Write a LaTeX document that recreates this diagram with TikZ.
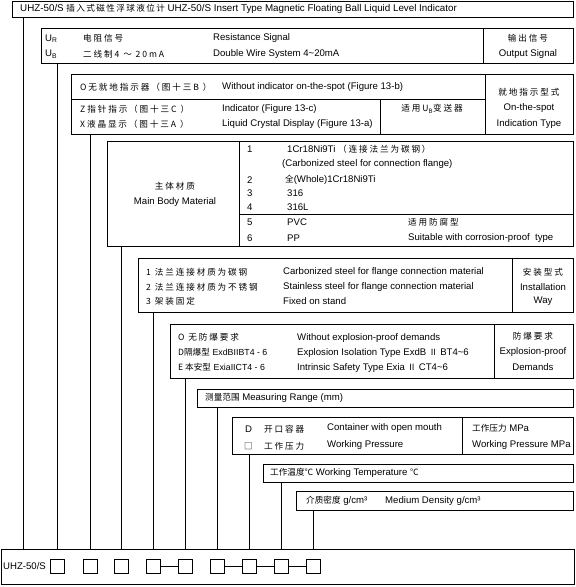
\documentclass[tikz,border=0pt]{standalone}
\usepackage{fontspec}
\setmainfont{Liberation Sans}
\newfontfamily\cjkf{Noto Sans CJK SC}
\newfontfamily\cjksf[LetterSpace=22]{Noto Sans CJK SC}
\newfontfamily\cjkhf[LetterSpace=16]{Noto Sans CJK SC}
\newcommand\zht[1]{{\fontsize{8.6}{10}\selectfont\cjkf #1}}
\newcommand\zsp[1]{{\fontsize{8.6}{10}\selectfont\cjksf #1}}
\newcommand\zhd[1]{{\fontsize{8.6}{10}\selectfont\cjkhf #1}}
\newcommand\smallat[1]{{\fontsize{8.8}{10}\selectfont #1}}
\begin{document}
\begin{tikzpicture}[x=1pt,y=-1pt,
  font=\fontsize{9.6}{11}\selectfont,
  frame/.style={draw,line width=0.9pt,inner sep=0pt,outer sep=0pt,anchor=north west},
  txt/.style={inner sep=0pt,anchor=west},
  ctxt/.style={inner sep=0pt,anchor=center},
  sq/.style={draw,line width=0.9pt,minimum width=14pt,minimum height=14pt,inner sep=0pt,outer sep=0pt},
  ln/.style={line width=0.9pt}]
\useasboundingbox (0,0) rectangle (576,587);

% frames
\node[frame,minimum width=561pt,minimum height=16pt] (hdr) at (12,1) {};
\node[frame,minimum width=532pt,minimum height=35pt] (ub) at (41,28) {};
\node[frame,minimum width=502pt,minimum height=60pt] (ind) at (71,74) {};
\node[frame,minimum width=466pt,minimum height=105pt] (mat) at (107,141) {};
\node[frame,minimum width=435pt,minimum height=54pt] (ins) at (138,258) {};
\node[frame,minimum width=403pt,minimum height=54pt] (exb) at (170,324) {};
\node[frame,minimum width=376pt,minimum height=18pt] (mr) at (197,389) {};
\node[frame,minimum width=341pt,minimum height=37pt] (db) at (232,417) {};
\node[frame,minimum width=310pt,minimum height=18pt] (tb) at (263,464) {};
\node[frame,minimum width=277pt,minimum height=19pt] (dens) at (296,491) {};
\node[frame,minimum width=573pt,minimum height=35pt] (bot) at (1,549) {};

% dividers
\draw[ln] (483,28) -- (483,63);
\draw[ln] (485,74) -- (485,134);
\draw[ln] (71,99) -- (485,99);
\draw[ln] (380,99) -- (380,134);
\draw[ln] (239,141) -- (239,246);
\draw[ln] (239,214) -- (573,214);
\draw[ln] (512,258) -- (512,312);
\draw[ln] (494,324) -- (494,378);
\draw[ln] (462,417) -- (462,454);

% header
\node[txt,font=\fontsize{9.8}{11}\selectfont] (t0) at (20,9) {UHZ-50/S \zhd{插入式磁性浮球液位计} UHZ-50/S Insert Type Magnetic Floating Ball Liquid Level Indicator};

% output signal
\node[txt] (u1) at (45,38.5) {U\textsubscript{R}};
\node[txt] (u2) at (45,54) {U\textsubscript{B}};
\node[txt] (u3) at (83,38.5) {\zsp{电阻信号}};
\node[txt] (u4) at (83,54) {\zsp{二线制4 ～ 20mA}};
\node[txt] (u5) at (213,38.5) {Resistance Signal};
\node[txt] (u6) at (213,54) {Double Wire System 4\textasciitilde20mA};
\node[ctxt] (u7) at (528,38.5) {\zsp{输出信号}};
\node[ctxt] (u8) at (528,54) {Output Signal};

% indicator
\node[txt] (i1) at (80,87) {\zsp{O无就地指示器（图十三B ）}};
\node[txt] (i2) at (222,87) {Without indicator on-the-spot (Figure 13-b)};
\node[txt] (i3) at (80,109) {\zsp{Z指针指示（图十三C ）}};
\node[txt] (i4) at (222,109) {Indicator (Figure 13-c)};
\node[txt] (i5) at (80,124) {\zsp{X液晶显示（图十三A ）}};
\node[txt] (i6) at (222,124) {Liquid Crystal Display (Figure 13-a)};
\node[ctxt] (i7) at (432,109) {\zsp{适用U\textsubscript{B}变送器}};
\node[ctxt] (i8) at (529,92) {\zsp{就地指示型式}};
\node[ctxt] (i9) at (529,108) {On-the-spot};
\node[ctxt] (i10) at (529,124) {Indication Type};

% material
\node[ctxt] (m0) at (175,186) {\zsp{主体材质}};
\node[ctxt] (m00) at (175,202) {Main Body Material};
\node[txt] (m1) at (247,149) {1};
\node[txt] (m1b) at (287,149) {1Cr18Ni9Ti \zsp{（连接法兰为碳钢）}};
\node[txt] (m1c) at (282,164) {(Carbonized steel for connection flange)};
\node[txt] (m2) at (247,180) {2};
\node[txt] (m2b) at (285,180) {\zht{全}(Whole)1Cr18Ni9Ti};
\node[txt] (m3) at (247,193) {3};
\node[txt] (m3b) at (287,193) {316};
\node[txt] (m4) at (247,207) {4};
\node[txt] (m4b) at (287,207) {316L};
\node[txt] (m5) at (247,222) {5};
\node[txt] (m5b) at (287,222) {PVC};
\node[txt] (m5c) at (408,222) {\zsp{适用防腐型}};
\node[txt] (m6) at (247,238) {6};
\node[txt] (m6b) at (287,238) {PP};
\node[txt] (m6c) at (408,238) {Suitable with corrosion-proof\ \ type};

% installation
\node[txt] (n1) at (146,272) {\zsp{1 法兰连接材质为碳钢}};
\node[txt] (n1b) at (283,272) {Carbonized steel for flange connection material};
\node[txt] (n2) at (146,287) {\zsp{2 法兰连接材质为不锈钢}};
\node[txt] (n2b) at (283,287) {Stainless steel for flange connection material};
\node[txt] (n3) at (146,301) {\zsp{3 架装固定}};
\node[txt] (n3b) at (283,301) {Fixed on stand};
\node[ctxt] (n4) at (543,272) {\zsp{安装型式}};
\node[ctxt] (n5) at (543,287) {Installation};
\node[ctxt] (n6) at (543,301) {Way};

% explosion
\node[txt] (e1) at (178,337) {\zsp{O 无防爆要求}};
\node[txt] (e1b) at (297,338) {Without explosion-proof demands};
\node[txt] (e2) at (178,352) {\zht{D隔爆型} \smallat{ExdBIIBT4 - 6}};
\node[txt] (e2b) at (297,353) {Explosion Isolation Type ExdB \zht{Ⅱ} BT4\textasciitilde6};
\node[txt] (e3) at (178,367) {\zht{E 本安型} \smallat{ExiaIICT4 - 6}};
\node[txt] (e3b) at (297,368) {Intrinsic Safety Type Exia \zht{Ⅱ} CT4\textasciitilde6};
\node[ctxt] (e4) at (533,336) {\zsp{防爆要求}};
\node[ctxt] (e5) at (533,352) {Explosion-proof};
\node[ctxt] (e6) at (533,367) {Demands};

% measuring range
\node[txt] (r1) at (205,398) {\zht{测量范围} Measuring Range (mm)};

% pressure
\node[txt] (d1) at (245,429) {D};
\node[txt] (d2) at (264,429) {\zsp{开口容器}};
\node[txt] (d3) at (327,428) {Container with open mouth};
\node[txt] (d4) at (244,446) {\zht{□}};
\node[txt] (d5) at (264,446) {\zsp{工作压力}};
\node[txt] (d6) at (327,445) {Working Pressure};
\node[txt] (d7) at (472,428) {\zht{工作压力} MPa};
\node[txt] (d8) at (472,445) {Working Pressure MPa};

% temperature
\node[txt] (w1) at (270,473) {\zht{工作温度℃} Working Temperature \zht{℃}};

% density
\node[txt] (g1) at (306,501) {\zht{介质密度} g/cm³};
\node[txt] (g2) at (385,501) {Medium Density g/cm³};

% bottom row
\node[txt] (lbl) at (3,566) {UHZ-50/S};
\node[sq] (s1) at (57,566) {};
\node[sq] (s2) at (90,566) {};
\node[sq] (s3) at (121,566) {};
\node[sq] (s4) at (153,566) {};
\node[sq] (s5) at (185,566) {};
\node[sq] (s6) at (217,566) {};
\node[sq] (s7) at (249,566) {};
\node[sq] (s8) at (281,566) {};
\node[sq] (s9) at (313,566) {};
\draw[ln] (s4) -- (s5);
\draw[ln] (s6) -- (s7);
\draw[ln] (s7) -- (s8);
\draw[ln] (s8) -- (s9);

% connectors
\coordinate (c0) at (23,566);
\draw[ln] (c0 |- hdr.south) -- (c0 |- bot.north);
\draw[ln] (s1 |- ub.south) -- (s1 |- bot.north);
\draw[ln] (s2 |- ind.south) -- (s2 |- bot.north);
\draw[ln] (s3 |- mat.south) -- (s3 |- bot.north);
\draw[ln] (s4 |- ins.south) -- (s4 |- bot.north);
\draw[ln] (s5 |- exb.south) -- (s5 |- bot.north);
\draw[ln] (s6 |- mr.south) -- (s6 |- bot.north);
\draw[ln] (s7 |- db.south) -- (s7 |- bot.north);
\draw[ln] (s8 |- tb.south) -- (s8 |- bot.north);
\draw[ln] (s9 |- dens.south) -- (s9 |- bot.north);
\end{tikzpicture}
\end{document}
